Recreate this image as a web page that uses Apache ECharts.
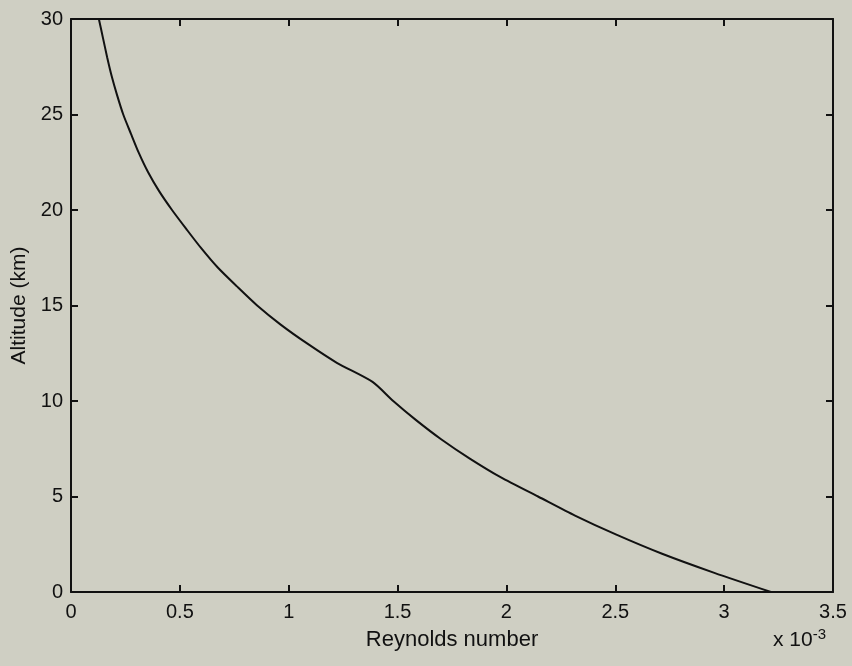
<!DOCTYPE html>
<html>
<head>
<meta charset="utf-8">
<script src="https://cdn.jsdelivr.net/npm/echarts@6/dist/echarts.min.js"></script>
<style>
html,body{margin:0;padding:0;background:#cfcfc3;}
#c{width:852px;height:666px;}
</style>
</head>
<body>
<div id="c"></div>
<script>
// Altitude (km)
const altitudes = [0,1,2,3,4,5,6,7,8,9,10,11,12,13,14,15,16,17,18,19,20,21,22,23,24,25,26,27,28,29,30];
// Reynolds number, in units of 1e-3
const reynolds = [3.215,2.955,2.715,2.505,2.315,2.145,1.975,1.83,1.70,1.585,1.48,1.385,1.221,1.086,0.963,0.855,0.762,0.673,0.598,0.53,0.464,0.404,0.353,0.311,0.275,0.240,0.212,0.187,0.166,0.147,0.128];
const xTicks = [0,0.5,1,1.5,2,2.5,3,3.5];
const yTicks = [0,5,10,15,20,25,30];

const chart = echarts.init(document.getElementById('c'));
const font = 'Liberation Sans, Arial, sans-serif';
const axisCommon = {
  axisLine:{show:true,onZero:false,lineStyle:{color:'#111',width:2}},
  axisTick:{show:true,inside:true,length:7,lineStyle:{color:'#111',width:2}},
  splitLine:{show:false}
};
chart.setOption({
  backgroundColor:'#cfcfc3',
  animation:false,
  grid:{left:71,right:19,top:19,bottom:74},
  xAxis:[
    Object.assign({type:'value',min:0,max:3.5,interval:0.5,position:'bottom',
      name:'Reynolds number',nameLocation:'middle',nameGap:37,
      nameTextStyle:{color:'#111',fontSize:22,fontFamily:font},
      axisLabel:{color:'#111',fontSize:20,fontFamily:font,margin:10,
        formatter:v=>String(xTicks.find(t=>Math.abs(t-v)<1e-9) ?? v)}},axisCommon),
    Object.assign({type:'value',min:0,max:3.5,interval:0.5,position:'top',axisLabel:{show:false}},axisCommon)
  ],
  yAxis:[
    Object.assign({type:'value',min:0,max:30,interval:5,position:'left',
      name:'Altitude (km)',nameLocation:'middle',nameGap:39,
      nameTextStyle:{color:'#111',fontSize:21,fontFamily:font},
      axisLabel:{color:'#111',fontSize:20,fontFamily:font,margin:8,
        formatter:v=>String(yTicks.find(t=>Math.abs(t-v)<1e-9) ?? v)}},axisCommon),
    Object.assign({type:'value',min:0,max:30,interval:5,position:'right',axisLabel:{show:false}},axisCommon)
  ],
  graphic:[{
    type:'text',left:773,top:627,
    style:{
      text:'x 10{sup|-3}',
      font:'21px ' + font,
      fill:'#111',
      rich:{sup:{fontSize:15,fontFamily:font,fill:'#111',verticalAlign:'top',padding:[0,0,12,0]}}
    }
  }],
  series:[{
    type:'line',
    xAxisIndex:0,yAxisIndex:0,
    data:altitudes.map((a,i)=>[reynolds[i],a]),
    showSymbol:false,
    smooth:0.25,
    lineStyle:{color:'#111',width:2}
  }]
});
</script>
</body>
</html>
